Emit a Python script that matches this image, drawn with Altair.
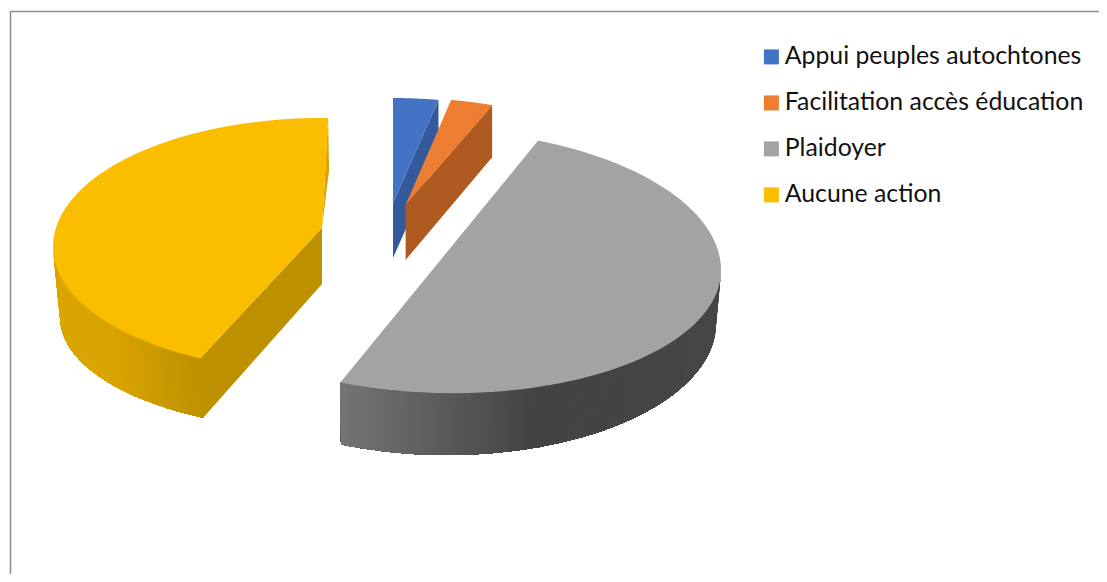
import math
import altair as alt

categories = ["Appui peuples autochtones", "Facilitation accès éducation", "Plaidoyer", "Aucune action"]
shares = [2.8, 2.6, 50.2, 44.4]
top_colors = ["#4472c4", "#ed7d31", "#a3a3a3", "#fbbd00"]
side_colors = ["#355a9c", "#ae5a21", None, "#bd9000"]

# 3D projection of each exploded slice, in page pixels
apex = [(393, 203), (405.6, 205), None, (322, 228)]
apex_depth = [55, 55, 0, 56]
ellipse = [  # cx, cy, rx, ry back, ry front, shear
    (393, 224, 260, 126, 126, 0),
    (405.6, 224, 260, 126, 126, 0),
    (440, 264, 281, 134, 129, 6),
    (322, 247, 269, 129, 125, 0),
]
ellipse_floor = [None, None, (447, 323, 269, 132), (322, 317, 262, 113)]
start_nudge = [0, 0, 1.0, 6.8]
end_nudge = [0, 0, 0.6, 1.3]
gray_ramp = [(341, (0x75, 0x75, 0x75)), (540, (0x43, 0x43, 0x43)), (720, (0x46, 0x46, 0x46))]
gold_ramp = [(55, (0xdb, 0xa6, 0x00)), (115, (0xd8, 0xa3, 0x00)), (203, (0xbd, 0x90, 0x00))]
ORIGIN = 8


def pt(e, t):
    c, s = math.cos(math.radians(t)), math.sin(math.radians(t))
    ry = e[3] if s < 0 else e[4]
    return (e[0] + e[2] * c, e[1] + ry * s + e[5] * c)


def floor_pt(f, t):
    c, s = math.cos(math.radians(t)), math.sin(math.radians(t))
    return (f[0] + f[2] * c, f[1] + f[3] * s)


def ramp(stops, x):
    if x <= stops[0][0]:
        v = stops[0][1]
    elif x >= stops[-1][0]:
        v = stops[-1][1]
    else:
        for (a, ca), (b, cb) in zip(stops, stops[1:]):
            if a <= x <= b:
                k = (x - a) / (b - a)
                v = tuple(round(p + (q - p) * k) for p, q in zip(ca, cb))
                break
    return "#%02x%02x%02x" % tuple(v)


def feature(points, **props):
    ring = [[p[0] - ORIGIN, p[1] - ORIGIN] for p in points]
    ring.append(ring[0])
    return {"type": "Feature", "properties": props, "geometry": {"type": "Polygon", "coordinates": [ring]}}


spans = []
angle = -90.0
for i, v in enumerate(shares):
    sweep = v / sum(shares) * 360
    spans.append((angle + start_nudge[i], angle + sweep + end_nudge[i]))
    angle += sweep

sides, tops = [], []
for i, name in enumerate(categories):
    t0, t1 = spans[i]
    e = ellipse[i]
    n = 90
    arc = [pt(e, t0 + (t1 - t0) * k / n) for k in range(n + 1)]
    if i == 2:  # grey: diameter edge, no apex inset
        tops.append(feature(arc, name=name))
    else:
        tops.append(feature(arc + [apex[i]], name=name))

# Blue and orange: inner radial face
for i in (0, 1):
    t0, t1 = spans[i]
    a = apex[i]
    p = pt(ellipse[i], t1)
    d = apex_depth[i] - (3 if i == 1 else 0)
    sides.append(feature([p, a, (a[0], a[1] + apex_depth[i]), (p[0], p[1] + d)], shade=side_colors[i]))


def wall(e, f, ts, te, fs, fe, stops, strips=120):
    """Outer wall: each strip runs to the wall's far end, so the next one paints over it without a seam."""
    out = []
    for k in range(strips):
        top = [pt(e, ts + (te - ts) * j / strips) for j in range(k, strips + 1)]
        bottom = [floor_pt(f, fs + (fe - fs) * j / strips) for j in range(k, strips + 1)]
        shade = ramp(stops, top[0][0])
        out.append(feature(top + bottom[::-1], shade=shade))
    return out


# Grey: rounded outer wall, painted from the right to the left end
sides += wall(ellipse[2], ellipse_floor[2], 0.0, spans[2][1], 0.0, 113.2, gray_ramp)

# Yellow: sliver at the back, rounded outer wall, inner radial face
t0 = spans[3][0]
a = apex[3]
back = pt(ellipse[3], spans[3][1])
sides.append(feature([back, (back[0] + 1, back[1] + 52), a], shade="#d9a500"))
sides += wall(ellipse[3], ellipse_floor[3], 180.0, t0, 180.0, t0, gold_ramp)
front = pt(ellipse[3], t0)
sides.append(feature([front, a, (a[0], a[1] + apex_depth[3]), floor_pt(ellipse_floor[3], t0)], shade=side_colors[3]))


def collection(features):
    return alt.InlineData(
        values={"type": "FeatureCollection", "features": features},
        format=alt.DataFormat(property="features", type="json"),
    )


proj = dict(type="identity", scale=1, translate=[0, 0])

walls = (
    alt.Chart(collection(sides))
    .mark_geoshape(strokeWidth=0)
    .encode(fill=alt.Fill("properties.shade:N", scale=None))
    .project(**proj)
)

faces = (
    alt.Chart(collection(tops))
    .mark_geoshape(strokeWidth=0)
    .encode(
        fill=alt.Fill(
            "properties.name:N",
            scale=alt.Scale(domain=categories, range=top_colors),
            legend=alt.Legend(
                title=None,
                orient="none",
                legendX=751,
                legendY=36.5,
                symbolType="square",
                symbolSize=225,
                symbolStrokeWidth=0,
                symbolOffset=0,
                labelFont="Lato",
                labelFontSize=24.8,
                labelColor="#111111",
                labelOffset=1,
                labelLimit=400,
                rowPadding=20,
            ),
        )
    )
    .project(**proj)
)

blank = alt.Chart(alt.InlineData(values=[{"k": 1}]))
border_left = blank.mark_rule(color="#8c8c8c", strokeWidth=1.5).encode(
    x=alt.value(2.5), y=alt.value(3.5), y2=alt.value(566)
)
border_top = blank.mark_rule(color="#8c8c8c", strokeWidth=1.5).encode(
    x=alt.value(2.5), x2=alt.value(1091), y=alt.value(3.5)
)

chart = (
    alt.layer(border_left, border_top, walls, faces)
    .resolve_scale(fill="independent")
    .properties(width=1091, height=566, padding=0, autosize=alt.AutoSizeParams(type="none"))
    .configure_view(stroke=None)
)

chart.save("out.html", embed_options={"renderer": "svg", "actions": False})
